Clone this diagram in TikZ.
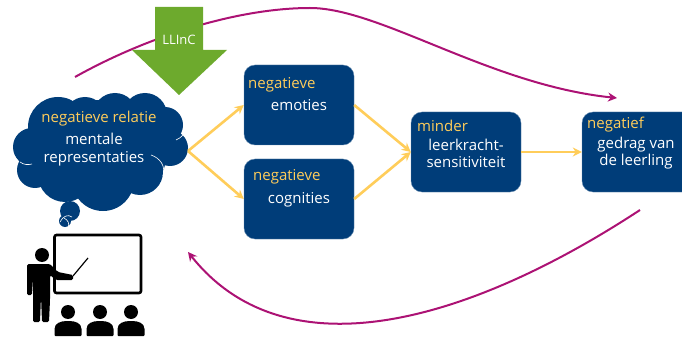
\documentclass[tikz,border=0pt]{standalone}
\usepackage{fontspec}
\setmainfont{Open Sans}
\usetikzlibrary{arrows.meta}
\definecolor{boxblue}{RGB}{0,61,121}
\definecolor{softyellow}{RGB}{255,205,90}
\definecolor{loopred}{RGB}{172,18,116}
\definecolor{llincgreen}{RGB}{109,170,45}
\tikzset{
    stepbox/.style={draw=boxblue!60,fill=boxblue,rounded corners=11pt,minimum width=110pt,minimum height=80pt,inner sep=0pt},
    headtext/.style={text=softyellow,font=\fontsize{15}{16}\selectfont,inner sep=0pt},
    bodytext/.style={text=white,font=\fontsize{15}{17.5}\selectfont,inner sep=0pt},
    flow/.style={softyellow,line width=2.6pt,-{Stealth[length=9pt,width=9pt]}},
    feedback/.style={loopred,line width=2pt,-{Stealth[length=9pt,width=9pt]}},
    cloudarc/.style={white,line width=0.6pt},
}
\begin{document}
\begin{tikzpicture}[x=1pt,y=-1pt]
    \useasboundingbox (0,0) rectangle (682,339);
    \clip (0,0) rectangle (682,339);

    % Feedback curves
    \coordinate (top_s) at (75,77);
    \coordinate (top_m) at (310,8);
    \coordinate (top_e) at (617,98);
    \coordinate (bot_s) at (640,210);
    \coordinate (bot_e) at (188,252);
    \draw [feedback] (top_s) .. controls (150,35) and (240,8) .. (top_m) .. controls (380,8) and (490,85) .. (top_e);
    \draw [feedback] (bot_s) .. controls (480,315) and (290,380) .. (bot_e);

    % LLInC arrow
    \fill [llincgreen] (155,7) -- (203,7) -- (203,50) -- (227,50) -- (179,95) -- (132,50) -- (155,50) -- cycle;
    \node [bodytext,font=\fontsize{13}{15}\selectfont] (llinc) at (179,40) {LLInC};

    % Cloud
    \foreach \x/\y/\r in {32/147/19,58/127/30,85/118/21,115/115/22,145/115/22,165/125/18,170/148/18,148/163/17,140/172/23,103/180/31,65/175/27,35/170/18,100/150/50,140/145/30}
    {
        \fill [boxblue] (\x,\y) circle (\r);
    }
    \fill [boxblue] (70,211) circle (10);
    \fill [boxblue] (65,221) circle (6);
    \draw [cloudarc] (151,155) .. controls (160,158) and (166,166) .. (163,176);
    \draw [cloudarc] (20,162) .. controls (24,165) and (28,165) .. (32,164);
    \draw [cloudarc] (176,140) .. controls (179,139) and (181,137) .. (183,135);
    \draw [cloudarc] (64,218) .. controls (68,220) and (70,224) .. (68,227);
    \draw [cloudarc] (60,222) .. controls (63,216) and (68,214) .. (72,217);
    \coordinate (cloud_e) at (188,151);

    % Boxes
    \node [stepbox] (emoties) at (299,105) {};
    \node [stepbox] (cognities) at (299,199) {};
    \node [stepbox] (sensitief) at (466,152) {};
    \node [stepbox,minimum width=120pt] (gedrag) at (642,152) {};

    \node [headtext,anchor=west] (emoties_h) at (248,85) {negatieve};
    \node [bodytext] (emoties_b) at (299,105) {emoties};
    \node [headtext,anchor=west] (cognities_h) at (253,177) {negatieve};
    \node [bodytext] (cognities_b) at (299,200) {cognities};
    \node [headtext,anchor=west] (sensitief_h) at (417,126) {minder};
    \node [bodytext,align=center] (sensitief_b) at (466,153.5) {leerkracht-\\sensitiviteit};
    \node [headtext,anchor=west] (gedrag_h) at (587,125) {negatief};
    \node [bodytext,align=center] (gedrag_b) at (636,153) {gedrag van\\de leerling};
    \node [headtext] (relatie_h) at (99,119) {negatieve relatie};
    \node [bodytext,align=center] (relatie_b) at (94,149.5) {mentale\\representaties};

    % Yellow arrows
    \draw [flow] (cloud_e) -- (emoties.west);
    \draw [flow] (cloud_e) -- (cognities.west);
    \draw [flow] (emoties.east) -- (sensitief.west);
    \draw [flow] (cognities.east) -- (sensitief.west);
    \draw [flow] (sensitief.east) -- (gedrag.west);

    % Teacher and board
    \draw [black,line width=2.6pt,rounded corners=2pt] (54.5,235) rectangle (141,293);
    \fill [black] (42,255) circle (7);
    \fill [black,rounded corners=1.5pt] (27,264) -- (50,264) -- (58,272) -- (73,275) -- (73,280) -- (56,280) -- (50,275)
        -- (50,300) -- (49,322) -- (42,322) -- (41,296) -- (40,322) -- (33,322) -- (33,295) -- (33,278) -- (32,295) -- (27,295) -- cycle;
    \draw [black,line width=1.2pt] (73,276) -- (88,258);

    % Audience
    \foreach \x in {68,100,131}
    {
        \fill [black] (\x,312) circle (7);
        \fill [black,rounded corners=1pt] (\x-13.5,336) -- (\x-13.5,330) .. controls (\x-13.5,323) and (\x-7,321) .. (\x,321)
            .. controls (\x+7,321) and (\x+13.5,323) .. (\x+13.5,330) -- (\x+13.5,336) -- cycle;
    }
\end{tikzpicture}
\end{document}
